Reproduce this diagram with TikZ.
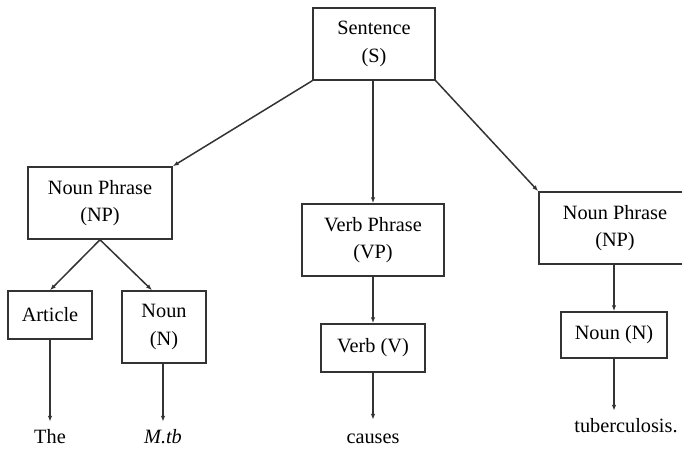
\documentclass[tikz,border=0pt]{standalone}
\usepackage{fontspec}
\setmainfont{Liberation Serif}
\usetikzlibrary{arrows.meta}
\begin{document}
\begin{tikzpicture}[x=1pt,y=-1pt,
  font=\fontsize{20.3}{27.5}\selectfont,
  box/.style={draw=black!80, line width=1.5pt, align=center, inner sep=0pt},
  leaf/.style={anchor=base, inner sep=0pt, text height=14pt, text depth=4pt, inner ysep=7pt},
  link/.style={draw=black!80, line width=1.5pt, -{Latex[length=6pt,width=4.5pt]}}]
\useasboundingbox (0,0) rectangle (682,449);

% phrase and category boxes
\node[box, minimum width=122pt, minimum height=72pt] (S)   at (374,44) {Sentence\\(S)};
\node[box, minimum width=144pt, minimum height=72pt] (NPa) at (100,203) {Noun Phrase\\(NP)};
\node[box, minimum width=142pt, minimum height=72pt] (VP)  at (373,240) {Verb Phrase\\(VP)};
\node[box, minimum width=152pt, minimum height=72pt] (NPb) at (615,228) {Noun Phrase\\(NP)};
\node[box, minimum width=84pt,  minimum height=48pt] (Art) at (50,315) {Article};
\node[box, minimum width=84pt,  minimum height=72pt] (Na)  at (164,327) {Noun\\(N)};
\node[box, minimum width=104pt, minimum height=48pt] (V)   at (373,348) {Verb (V)};
\node[box, minimum width=106pt, minimum height=46pt] (Nb)  at (614,335) {Noun (N)};

% words
\node[leaf] (the)  at (50,443)  {The};
\node[leaf] (mtb)  at (163,443) {\textit{M.tb}};
\node[leaf, inner ysep=9pt] (cau)  at (373,443) {causes};
\node[leaf] (tub)  at (626,432) {tuberculosis.};

% connectors
\draw[link] (S.south west) -- (NPa.north east);
\draw[link] (VP.north |- S.south) -- (VP.north);
\draw[link] (S.south east) -- (NPb.north west);
\draw[link] (NPa.south) -- (Art.north);
\draw[link] (NPa.south) -- ([xshift=-12pt]Na.north);
\draw[link] (V.north |- VP.south) -- (V.north);
\draw[link] (NPb.south -| Nb.north) -- (Nb.north);
\draw[link] (Art.south) -- (Art.south |- the.north);
\draw[link] (mtb.north |- Na.south) -- (mtb.north);
\draw[link] (V.south) -- (V.south |- cau.north);
\draw[link] (Nb.south) -- (Nb.south |- tub.north);
\end{tikzpicture}
\end{document}
